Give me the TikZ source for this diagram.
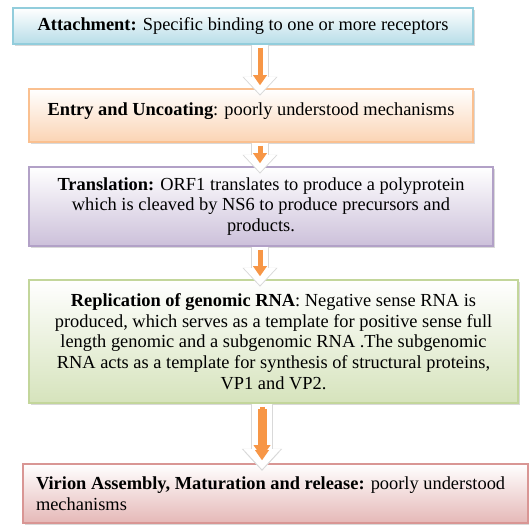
\documentclass[tikz,border=0pt]{standalone}
\usepackage{fontspec}
\setmainfont{Liberation Serif}
\usetikzlibrary{positioning, arrows.meta, shadows}
\definecolor{AccentAqua}{RGB}{146, 205, 220}
\definecolor{AccentAquaFill}{RGB}{183, 221, 232}
\definecolor{AccentOrange}{RGB}{247, 150, 70}
\definecolor{AccentOrangeLine}{RGB}{250, 192, 144}
\definecolor{AccentOrangeFill}{RGB}{251, 212, 180}
\definecolor{AccentPurple}{RGB}{178, 161, 199}
\definecolor{AccentPurpleFill}{RGB}{204, 192, 218}
\definecolor{AccentGreen}{RGB}{195, 214, 155}
\definecolor{AccentGreenFill}{RGB}{214, 227, 188}
\definecolor{AccentRed}{RGB}{217, 150, 148}
\definecolor{AccentRedFill}{RGB}{229, 184, 183}

\begin{document}
\begin{tikzpicture}[x=0.5pt, y=-0.5pt,
    stagebox/.style={draw, line width=0.8pt, align=center, inner sep=0pt, top color=white,
      font=\fontsize{9.2}{10.3}\selectfont,
      drop shadow={shadow xshift=1.2pt, shadow yshift=-1.2pt, opacity=0.3}},
    flowarrow/.style={draw=white, line width=8pt, shorten >=-3pt,
      -{Triangle[width=16pt, length=8.5pt, line width=0pt]},
      preaction={draw=black!15, line width=9pt, shorten >=-3.7pt,
        -{Triangle[width=17.6pt, length=9.4pt, line width=0pt]}},
      postaction={draw=AccentOrange, line width=2.5pt, shorten <=1.5pt, shorten >=1.5pt,
        -{Triangle[width=7pt, length=5pt, line width=0pt]}}},
    bigflowarrow/.style={flowarrow, line width=10pt,
      -{Triangle[width=18.5pt, length=10pt, line width=0pt]},
      preaction={draw=black!15, line width=11pt, shorten >=-3.7pt,
        -{Triangle[width=20.2pt, length=10.9pt, line width=0pt]}},
      postaction={draw=AccentOrange, line width=4.5pt, shorten <=2.5pt, shorten >=3pt,
        -{Triangle[width=8.5pt, length=6pt, line width=0pt]}}}]
    \useasboundingbox (0,0) rectangle (529,524);

    % Stages of the replication cycle
    \node[stagebox, draw=AccentAqua, bottom color=AccentAquaFill,
      minimum width=230pt, minimum height=18pt] (attach) at (243,26)
      {\textbf{Attachment:} Specific binding to one or more receptors};
    \node[stagebox, draw=AccentOrangeLine, bottom color=AccentOrangeFill,
      minimum width=222pt, minimum height=26.5pt, text height=13pt, text depth=13.5pt] (entry) at (251,115.5)
      {\textbf{Entry and Uncoating}: poorly understood mechanisms};
    \node[stagebox, draw=AccentPurple, bottom color=AccentPurpleFill,
      minimum width=232pt, minimum height=39.5pt] (transl) at (261,206.5)
      {\textbf{Translation:} ORF1 translates to produce a polyprotein\\
       which is cleaved by NS6 to produce precursors and\\
       products.};
    \node[stagebox, draw=AccentGreen, bottom color=AccentGreenFill,
      minimum width=244.5pt, minimum height=61.5pt] (replic) at (273.5,341.5)
      {\textbf{Replication of genomic RNA}: Negative sense RNA is\\
       produced, which serves as a template for positive sense full\\
       length genomic and a subgenomic RNA .The subgenomic\\
       RNA acts as a template for synthesis of structural proteins,\\
       VP1 and VP2.};
    \node[stagebox, draw=AccentRed, bottom color=AccentRedFill, align=flush left,
      text width=239.5pt, inner xsep=6.5pt, minimum height=29.5pt] (virion) at (275.5,493.5)
      {\textbf{Virion Assembly, Maturation and release:} poorly understood\\
       mechanisms};

    % Arrows
    \coordinate (axis) at (260,0);
    \coordinate (bigaxis) at (262,0);
    \draw[flowarrow] (attach.south -| axis) -- (entry.north -| axis);
    \draw[flowarrow] (entry.south -| axis) -- (transl.north -| axis);
    \draw[flowarrow] (transl.south -| axis) -- (replic.north -| axis);
    \draw[bigflowarrow] (replic.south -| bigaxis) -- (virion.north -| bigaxis);
\end{tikzpicture}
\end{document}
